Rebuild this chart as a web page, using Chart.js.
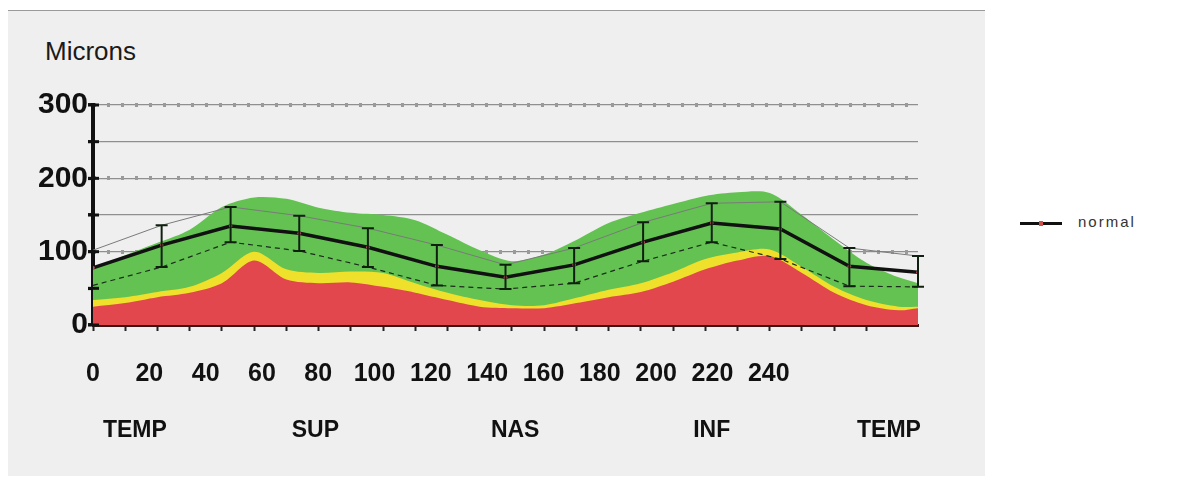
<!DOCTYPE html>
<html>
<head>
<meta charset="utf-8">
<script src="https://cdn.jsdelivr.net/npm/chart.js@4.4.1/dist/chart.umd.min.js"></script>
<style>
  html, body { margin: 0; padding: 0; background: #fff; }
  #panel { position: absolute; left: 8px; top: 10px; width: 977px; height: 465px; background: #efefef; border-top: 1px solid #9a9a9a; }
  #wrap { position: absolute; left: 0; top: 0; width: 1178px; height: 479px; }
  #title { position: absolute; left: 45px; top: 36px; font: 26px 'Liberation Sans', Arial, sans-serif; color: #1a1a1a; }
  #legend { position: absolute; left: 1020px; top: 213px; font: 15px 'Liberation Sans', Arial, sans-serif; color: #333; letter-spacing: 2px; }
  #legend .ln { display: inline-block; width: 42px; height: 3px; background: #111; vertical-align: middle; position: relative; margin-right: 16px; }
  #legend .ln i { position: absolute; left: 19px; top: -1px; width: 4px; height: 5px; background: #d05050; }
</style>
</head>
<body>
<div id="panel"></div>
<div id="title">Microns</div>
<div id="legend"><span class="ln"><i></i></span>normal</div>
<div id="wrap"><canvas id="c" width="1178" height="479"></canvas></div>
<script>
// profile sampled every 10 scan units
const profileX = [0, 10, 20, 30, 40, 50, 60, 70, 80, 90, 100, 110, 120, 130, 140, 150, 160, 170, 180, 190, 200, 210, 220, 230, 240, 250, 256];
const greenTop = [76, 95, 112, 130, 161, 174, 172, 160, 153, 150, 143, 123, 102, 87, 96, 116, 139, 153, 165, 176, 181, 180, 150, 116, 85, 65, 57];
const yellowTop = [34, 38, 45, 52, 71, 100, 76, 71, 73, 71, 57, 44, 34, 27, 27, 37, 48, 57, 72, 90, 99, 103, 79, 52, 34, 25, 25];
const redTop = [25, 30, 38, 44, 57, 88, 62, 57, 58, 52, 44, 34, 25, 23, 23, 30, 38, 45, 59, 76, 88, 94, 71, 44, 27, 20, 23];

// normal curve, 12 segments
const segX = [0, 21.3, 42.7, 64, 85.3, 106.7, 128, 149.3, 170.7, 192, 213.3, 234.7, 256];
const normalMean = [78, 109, 135, 125, 106, 80, 65, 82, 113, 139, 131, 80, 72];
const normalHigh = [102, 136, 161, 149, 132, 109, 82, 105, 140, 166, 168, 105, 94];
const normalLow = [54, 79, 113, 101, 79, 54, 49, 57, 87, 113, 90, 53, 52];

const yTicks = [0, 50, 100, 150, 200, 250, 300];
const xTickLabels = [0, 20, 40, 60, 80, 100, 120, 140, 160, 180, 200, 220, 240];
const regionTicks = [13, 69, 131, 192, 247];
const regionLabels = ['TEMP', 'SUP', 'NAS', 'INF', 'TEMP'];

const pts = (xs, ys) => xs.map((x, i) => ({ x: x, y: ys[i] }));
const sans = "'Liberation Sans', Arial, sans-serif";

const errorBars = {
  id: 'errorBars',
  afterDatasetsDraw(chart) {
    const ctx = chart.ctx, xs = chart.scales.x, ys = chart.scales.y;
    ctx.save();
    ctx.strokeStyle = '#102010';
    ctx.lineWidth = 2;
    for (let i = 1; i < segX.length; i++) {
      const px = xs.getPixelForValue(segX[i]);
      const top = ys.getPixelForValue(normalHigh[i]);
      const bot = ys.getPixelForValue(normalLow[i]);
      ctx.beginPath();
      ctx.moveTo(px, top); ctx.lineTo(px, bot);
      ctx.moveTo(px - 6, top); ctx.lineTo(px + 6, top);
      ctx.moveTo(px - 6, bot); ctx.lineTo(px + 6, bot);
      ctx.stroke();
    }
    // y axis tick marks cross the axis line
    const ax = ys.right;
    ctx.strokeStyle = '#111';
    ctx.lineWidth = 3;
    yTicks.forEach(v => {
      const py = ys.getPixelForValue(v);
      ctx.beginPath(); ctx.moveTo(ax - 5, py); ctx.lineTo(ax + 6, py); ctx.stroke();
    });
    ctx.restore();
  }
};

new Chart(document.getElementById('c'), {
  type: 'line',
  data: {
    datasets: [
      { label: 'normal', data: pts(segX, normalMean), borderColor: '#111', borderWidth: 3.5, pointRadius: 1.8, pointBackgroundColor: '#c85060', pointBorderWidth: 0, tension: 0, fill: false },
      { label: 'high', data: pts(segX, normalHigh), borderColor: '#7a7a7a', borderWidth: 1, pointRadius: 0, tension: 0, fill: false },
      { label: 'low', data: pts(segX, normalLow), borderColor: '#1c2c1c', borderWidth: 1.2, borderDash: [5, 4], pointRadius: 0, tension: 0, fill: false },
      { label: 'red', data: pts(profileX, redTop), borderWidth: 0, backgroundColor: '#e2474e', pointRadius: 0, tension: 0.3, fill: 'origin' },
      { label: 'yellow', data: pts(profileX, yellowTop), borderWidth: 0, backgroundColor: '#efe02c', pointRadius: 0, tension: 0.3, fill: 'origin' },
      { label: 'green', data: pts(profileX, greenTop), borderWidth: 0, backgroundColor: '#63c252', pointRadius: 0, tension: 0.3, fill: 'origin' }
    ]
  },
  options: {
    responsive: false,
    animation: false,
    layout: { padding: { left: 0, right: 260, top: 105, bottom: 0 } },
    plugins: { legend: { display: false }, tooltip: { enabled: false } },
    scales: {
      x: {
        type: 'linear', position: 'bottom', min: 0, max: 256, weight: 0,
        afterBuildTicks: s => { s.ticks = s.ticks.filter(t => t.value % 10 === 0); },
        afterFit: s => { s.height = 7; },
        ticks: { stepSize: 10, display: false, autoSkip: false },
        grid: { drawOnChartArea: false, drawTicks: true, tickLength: 6, tickColor: '#222', tickWidth: 2 },
        border: { color: '#3a1414', width: 3 }
      },
      x2: {
        type: 'linear', position: 'bottom', min: 0, max: 293, weight: 1,
        afterBuildTicks: s => { s.ticks = xTickLabels.map(v => ({ value: v })); },
        afterFit: s => { s.height = 70; },
        ticks: { color: '#111', padding: 27, maxRotation: 0, autoSkip: false, font: { family: sans, size: 25, weight: 'bold' } },
        grid: { display: false, drawTicks: false },
        border: { display: false }
      },
      x3: {
        type: 'linear', position: 'bottom', min: 0, max: 256, weight: 2,
        afterBuildTicks: s => { s.ticks = regionTicks.map(v => ({ value: v })); },
        afterFit: s => { s.height = 77; },
        ticks: { color: '#111', padding: 15, maxRotation: 0, autoSkip: false, font: { family: sans, size: 23, weight: 'bold' },
          callback: (v, i) => regionLabels[i] },
        grid: { display: false, drawTicks: false },
        border: { display: false }
      },
      y: {
        min: 0, max: 300, weight: 1,
        afterBuildTicks: s => { s.ticks = yTicks.map(v => ({ value: v })); },
        afterFit: s => { s.width = 93; },
        ticks: { color: '#111', padding: 0, autoSkip: false, font: { family: sans, size: 30, weight: 'bold' },
          callback: v => (v % 100 === 0 ? v : '') },
        grid: { color: '#8f8f8f', lineWidth: 1.2, tickLength: 5, tickColor: '#111', tickWidth: 3 },
        border: { color: '#111', width: 4 }
      },
      y2: {
        min: 0, max: 300, position: 'left', weight: 0,
        afterBuildTicks: s => { s.ticks = [100, 200, 300].map(v => ({ value: v })); },
        afterFit: s => { s.width = 0; },
        ticks: { display: false, autoSkip: false },
        grid: { color: '#9a9a9a', lineWidth: 4, drawTicks: false },
        border: { display: false, dash: [3, 11] }
      }
    }
  },
  plugins: [errorBars]
});
</script>
</body>
</html>
